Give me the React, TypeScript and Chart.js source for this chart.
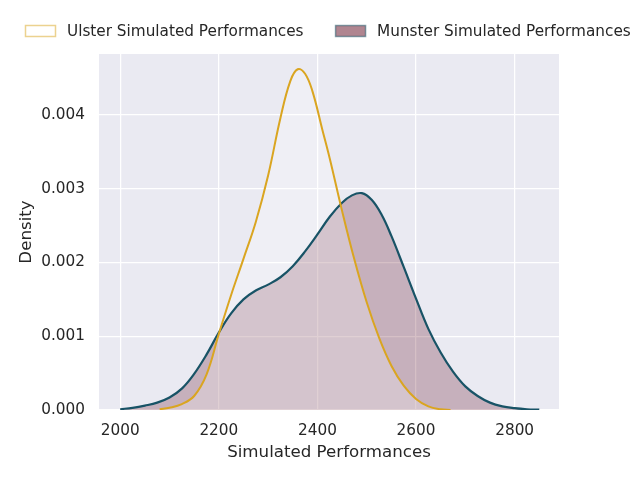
import React, { useEffect, useRef } from "react";
import { Chart, registerables } from "chart.js";

Chart.register(...registerables);

const seriesLabels = ["Ulster Simulated Performances", "Munster Simulated Performances"];

const ulsterX = [2080, 2100, 2125, 2150, 2175, 2200, 2225, 2250, 2275, 2300, 2325, 2345, 2360, 2375, 2390, 2410, 2425, 2450, 2475, 2500, 2525, 2550, 2575, 2600, 2625, 2650, 2670];
const ulsterY = [0.00001, 0.00003, 0.00008, 0.00019, 0.00048, 0.00103, 0.00156, 0.00205, 0.00255, 0.00318, 0.00396, 0.00446, 0.00462, 0.00456, 0.00432, 0.0038, 0.00341, 0.0027, 0.00204, 0.00146, 0.00098, 0.0006, 0.00033, 0.00015, 0.00005, 0.00001, 0];

const munsterX = [2000, 2025, 2050, 2075, 2100, 2125, 2150, 2175, 2200, 2225, 2250, 2275, 2300, 2325, 2350, 2375, 2400, 2425, 2450, 2470, 2490, 2510, 2530, 2550, 2575, 2600, 2625, 2650, 2675, 2700, 2725, 2750, 2775, 2800, 2825, 2850];
const munsterY = [0.00001, 0.00003, 0.00006, 0.0001, 0.00017, 0.00029, 0.00049, 0.00075, 0.00105, 0.00131, 0.0015, 0.00162, 0.0017, 0.0018, 0.00195, 0.00215, 0.00238, 0.00262, 0.00281, 0.00291, 0.00294, 0.00285, 0.00265, 0.00236, 0.00194, 0.00151, 0.0011, 0.00078, 0.00052, 0.00032, 0.00019, 0.0001, 0.00005, 0.000025, 0.00001, 0.000004];

const xTicks = [2000, 2200, 2400, 2600, 2800];
const yTicks = [0, 0.001, 0.002, 0.003, 0.004];

const FONT = '"DejaVu Sans", sans-serif';
const TEXT = "#262626";

export default function App() {
  const ref = useRef<HTMLCanvasElement>(null);

  useEffect(() => {
    const canvas = ref.current!;

    const bgPlugin = {
      id: "bgPlot",
      beforeDraw(chart: any) {
        const { ctx, chartArea: a } = chart;
        ctx.save();
        ctx.fillStyle = "#eaeaf2";
        ctx.fillRect(a.left, a.top, a.right - a.left, a.bottom - a.top);
        ctx.restore();
      },
    };

    const legendItems = [
      { text: seriesLabels[0], fill: "rgba(255,255,255,0.5)", stroke: "rgba(218,165,32,0.5)" },
      { text: seriesLabels[1], fill: "rgba(98,12,34,0.5)", stroke: "rgba(24,83,102,0.5)" },
    ];

    const legendPlugin = {
      id: "customLegend",
      afterDraw(chart: any) {
        const { ctx } = chart;
        ctx.save();
        ctx.font = `15.28px ${FONT}`;
        ctx.textBaseline = "middle";
        ctx.textAlign = "left";
        let x = 25.5;
        const cy = 31;
        legendItems.forEach((it) => {
          ctx.fillStyle = it.fill;
          ctx.strokeStyle = it.stroke;
          ctx.lineWidth = 1.5;
          ctx.fillRect(x, cy - 5.5, 30, 11);
          ctx.strokeRect(x, cy - 5.5, 30, 11);
          ctx.fillStyle = TEXT;
          ctx.fillText(it.text, x + 41.5, cy + 1);
          const w = ctx.measureText(it.text).width;
          x = x + 41.5 + w + 32;
        });
        ctx.restore();
      },
    };

    const chart = new Chart(canvas, {
      type: "line",
      data: {
        datasets: [
          {
            label: seriesLabels[0],
            data: ulsterX.map((x, i) => ({ x, y: ulsterY[i] })),
            borderColor: "#daa520",
            borderWidth: 2,
            backgroundColor: "rgba(255,255,255,0.25)",
            fill: "origin",
            pointRadius: 0,
            tension: 0.4,
          },
          {
            label: seriesLabels[1],
            data: munsterX.map((x, i) => ({ x, y: munsterY[i] })),
            borderColor: "#185366",
            borderWidth: 2.2,
            backgroundColor: "rgba(98,12,34,0.26)",
            fill: "origin",
            pointRadius: 0,
            tension: 0.4,
          },
        ],
      },
      options: {
        animation: false,
        responsive: false,
        events: [],
        layout: { padding: { top: 54, right: 81, left: 0, bottom: 0 } },
        plugins: {
          legend: { display: false },
          tooltip: { enabled: false },
          filler: { drawTime: "beforeDatasetsDraw" },
        } as any,
        scales: {
          x: {
            type: "linear",
            min: 1957,
            max: 2890,
            afterBuildTicks: (s: any) => {
              s.ticks = xTicks.map((v) => ({ value: v }));
            },
            afterFit: (s: any) => {
              s.height = 70;
            },
            grid: { color: "#ffffff", lineWidth: 1.25, drawTicks: false },
            border: { display: false },
            ticks: {
              padding: 12,
              color: TEXT,
              maxRotation: 0,
              font: { family: FONT, size: 15.28 },
              callback: (v: any) => String(v),
            },
            title: {
              display: true,
              text: "Simulated Performances",
              color: TEXT,
              font: { family: FONT, size: 16.67 },
              padding: { top: 0, bottom: 17 },
            },
          },
          y: {
            type: "linear",
            min: 0,
            max: 0.004827,
            afterBuildTicks: (s: any) => {
              s.ticks = yTicks.map((v) => ({ value: v }));
            },
            afterFit: (s: any) => {
              s.width = 99;
            },
            grid: { color: "#ffffff", lineWidth: 1.25, drawTicks: false },
            border: { display: false },
            ticks: {
              padding: 14,
              color: TEXT,
              font: { family: FONT, size: 15.28 },
              callback: (v: any) => Number(v).toFixed(3),
            },
            title: {
              display: true,
              text: "Density",
              color: TEXT,
              font: { family: FONT, size: 16.67 },
              padding: { top: 17, bottom: 0 },
            },
          },
        },
      },
      plugins: [bgPlugin, legendPlugin],
    } as any);

    return () => chart.destroy();
  }, []);

  return (
    <div style={{ position: "fixed", left: 0, top: 0, width: 640, height: 480, background: "#ffffff" }}>
      <canvas ref={ref} width={640} height={480} style={{ display: "block", width: 640, height: 480 }} />
    </div>
  );
}
